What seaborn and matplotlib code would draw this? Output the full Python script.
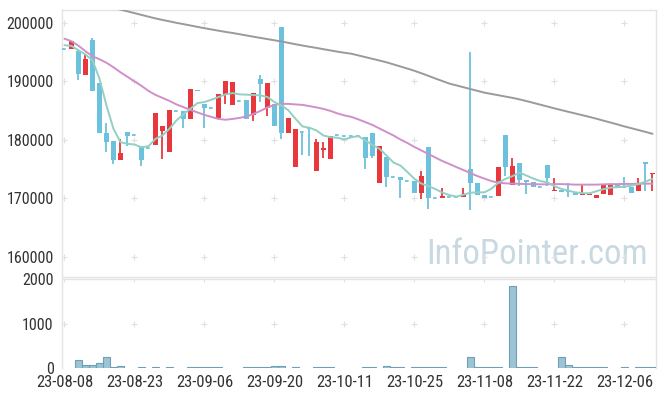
import numpy as np
import pandas as pd
import matplotlib
matplotlib.use('Agg')
import matplotlib.pyplot as plt
import seaborn as sns

# trading days 23-08-08 .. 23-12-12 (KRX holidays removed)
holidays = ['2023-08-15', '2023-09-28', '2023-09-29', '2023-10-02', '2023-10-03', '2023-10-09']
dates = [d for d in pd.bdate_range('2023-08-08', '2023-12-12') if d.strftime('%Y-%m-%d') not in holidays]

opens = [195600, 195600, 195190, 191070, 197030, 189650, 181070, 179860, 176480, 181240,
         180720, 179000, 178610, 179060, 181530, 177850, 184960, 184840, 183520, 188550,
         186040, 185480, 183690, 187590, 185920, 186680, 186730, 184210, 190340, 185410,
         186040, 199260, 181120, 175280, 181400, 181970, 174710, 178200, 176650, 180840,
         180600, 180670, 180670, 180380, 181070, 172600, 177120, 173630, 173680, 172990,
         172990, 170820, 178830, 170030, 169960, 170130, 170130, 170130, 175000, 172650,
         170590, 170130, 170300, 180720, 172250, 176090, 173120, 172820, 171850, 175740,
         171280, 171400, 171160, 170990, 170470, 170470, 170080, 170640, 170470, 172190,
         171970, 171970, 171160, 176250, 174080]
highs = [195600, 196860, 195600, 194460, 197490, 189650, 182900, 179860, 180150, 181240,
         180720, 179000, 178610, 184500, 182270, 185010, 184960, 184840, 188620, 188550,
         186040, 185480, 187760, 189990, 189820, 186680, 186730, 187930, 191020, 189650,
         186040, 199260, 183640, 181870, 181400, 181970, 180090, 179570, 180550, 180840,
         180600, 180670, 180670, 180380, 181070, 179000, 177120, 173630, 173680, 172990,
         172990, 174710, 178830, 170030, 171740, 170130, 170130, 171740, 195090, 172650,
         170590, 170130, 175400, 180720, 176890, 176090, 173120, 172820, 171850, 175740,
         173460, 171400, 172530, 170990, 172250, 170760, 170590, 172310, 172310, 172190,
         173560, 171970, 173460, 176250, 174370]
lows = [195600, 195600, 190280, 191070, 188330, 181120, 177970, 175860, 176480, 178900,
        180720, 175570, 178610, 179060, 176720, 177850, 184960, 182000, 183520, 188350,
        182040, 185480, 183690, 186040, 185920, 186680, 183520, 183120, 186440, 183980,
        182270, 180150, 181120, 175280, 177430, 177290, 174710, 176820, 176650, 180840,
        180600, 180670, 180670, 175000, 176820, 172600, 171970, 173630, 170030, 172990,
        170820, 169850, 168140, 170030, 169960, 170130, 170130, 170130, 168020, 170540,
        170080, 170130, 170300, 173730, 172250, 172020, 170710, 171850, 171850, 172020,
        171280, 171110, 170250, 170470, 170470, 170470, 170080, 170640, 170470, 171800,
        171970, 170820, 171160, 171160, 171160]
closes = [195600, 196860, 191240, 193820, 188330, 181120, 179690, 176480, 177800, 180600,
          180720, 176480, 178610, 184500, 182270, 185010, 184960, 183590, 188620, 188350,
          185410, 185480, 187760, 189990, 189820, 186680, 183520, 187930, 189530, 189650,
          182270, 181120, 183640, 181870, 181400, 181970, 179690, 178660, 180550, 180840,
          180600, 180670, 180670, 176820, 177170, 179000, 173560, 173630, 173050, 172990,
          170820, 173850, 169960, 170030, 170300, 170130, 170130, 170590, 172530, 170540,
          170080, 170130, 175400, 175280, 175570, 173050, 172820, 171850, 171850, 173460,
          171450, 171110, 171160, 170470, 170640, 170760, 170590, 172310, 172310, 171800,
          171970, 170820, 172650, 175860, 174370]

ma5 = [196170, 196050, 195310, 194580, 193600, 190450, 185870, 181870, 179570, 179300,
       179180, 178710, 178880, 180150, 180720, 181870, 183300, 184360, 185310, 186270,
       186440, 186850, 187300, 187760, 187980, 187760, 187710, 187640, 187590, 187300,
       186440, 185870, 185010, 183590, 182270, 182040, 181580, 180720, 180430, 180330,
       180040, 180430, 180600, 179860, 179120, 178440, 177290, 176090, 175570, 174460,
       173290, 172480, 172050, 171540, 170940, 170510, 170250, 170590, 170940, 170990,
       170990, 171620, 172650, 173290, 173770, 174370, 173860, 173340, 172910, 172700,
       172050, 171570, 171280, 170990, 170850, 170820, 171190, 171540, 171800, 171880,
       171970, 172140, 172400, 172830, 173290]
ma20 = [197290, 196860, 196090, 195140, 194280, 193770, 193170, 192400, 191540, 190760,
        189990, 189220, 188360, 187670, 187160, 186640, 186040, 185580, 185100, 184670,
        184240, 183900, 183550, 183420, 183550, 183730, 183980, 184410, 184930, 185530,
        185960, 186130, 186130, 186040, 185960, 185750, 185530, 185270, 184930, 184500,
        184160, 183900, 183470, 183000, 182520, 181920, 181320, 180720, 180030, 179430,
        178750, 178150, 177550, 176940, 176340, 175830, 175310, 174800, 174280, 173770,
        173340, 172910, 172650, 172530, 172480, 172450, 172400, 172400, 172360, 172360,
        172400, 172400, 172360, 172310, 172310, 172310, 172310, 172360, 172400, 172400,
        172430, 172430, 172480, 172480, 172480]
ma60 = [204580, 204290, 203980, 203670, 203380, 203090, 202820, 202520, 202270, 201970,
        201670, 201360, 201060, 200760, 200500, 200260, 200000, 199780, 199550, 199310,
        199090, 198870, 198660, 198450, 198270, 198060, 197840, 197630, 197420, 197220,
        197010, 196810, 196580, 196340, 196120, 195910, 195710, 195490, 195280, 195070,
        194880, 194710, 194420, 194130, 193840, 193550, 193250, 192890, 192530, 192170,
        191790, 191370, 190920, 190470, 190030, 189600, 189290, 188980, 188670, 188360,
        188050, 187830, 187610, 187380, 187160, 186900, 186610, 186300, 185990, 185680,
        185360, 185060, 184770, 184480, 184190, 183900, 183590, 183260, 182940, 182610,
        182270, 181960, 181650, 181340, 181010]

volume = [0, 0, 190, 76, 76, 122, 236, 15, 53, 0,
          0, 15, 0, 15, 0, 30, 0, 0, 15, 15,
          15, 15, 15, 0, 0, 0, 30, 15, 15, 15,
          53, 53, 0, 15, 0, 0, 30, 15, 15, 0,
          0, 0, 0, 30, 15, 0, 53, 15, 15, 0,
          15, 15, 30, 15, 15, 0, 0, 0, 258, 15,
          30, 15, 15, 0, 1840, 15, 15, 15, 0, 0,
          0, 236, 76, 15, 15, 15, 15, 15, 0, 0,
          15, 0, 15, 15, 15]

price_ticks = [160000, 170000, 180000, 190000, 200000]
vol_ticks = [0, 1000, 2000]

RED = '#e8383d'
BLUE = '#6cc2dc'
GRID = '#e0e0e0'
SPINE = '#e4e4e4'

sns.set_theme(style='white')
plt.rcParams['font.family'] = ['Roboto Condensed', 'DejaVu Sans']

df = pd.DataFrame({'idx': np.arange(len(dates)), 'open': opens, 'high': highs, 'low': lows,
                   'close': closes, 'ma5': ma5, 'ma20': ma20, 'ma60': ma60, 'volume': volume})

fig = plt.figure(figsize=(6.65, 3.96), dpi=100)
ax = fig.add_axes([62 / 665, 1 - 277 / 396, 594 / 665, 267 / 396])
axv = fig.add_axes([62 / 665, 1 - 368 / 396, 594 / 665, 89 / 396])

xt = df['idx'].values[::10]

# grid crosses
gx, gy = np.meshgrid(xt, price_ticks)
ax.scatter(gx.ravel(), gy.ravel(), marker='+', s=14, color=GRID, linewidths=0.8, zorder=1)
gx, gy = np.meshgrid(xt, vol_ticks[1:])
axv.scatter(gx.ravel(), gy.ravel(), marker='+', s=14, color=GRID, linewidths=0.8, zorder=1)

ax.text(0.987, 0.022, 'InfoPointer.com', transform=ax.transAxes, ha='right', va='bottom',
        fontsize=25, color='#c8d9e2', zorder=0)

# candles
up = df['close'] > df['open']
flat = df['close'] == df['open']
colors = np.where(up, RED, BLUE)
ax.vlines(df['idx'], df['low'], df['high'], colors=colors, linewidth=1.3, zorder=3)
body_lo = df[['open', 'close']].min(axis=1)
body_h = (df['close'] - df['open']).abs()
ax.bar(df['idx'][~flat], body_h[~flat], bottom=body_lo[~flat], width=0.68,
       color=colors[~flat], linewidth=0, zorder=4)
ax.hlines(df['close'][flat], df['idx'][flat] - 0.4, df['idx'][flat] + 0.4,
          colors=BLUE, linewidth=1.3, linestyles=(0, (2, 1.2)), zorder=4)

# moving averages
sns.lineplot(data=df, x='idx', y='ma60', ax=ax, color='#9a9a9a', linewidth=1.4, zorder=5)
sns.lineplot(data=df, x='idx', y='ma20', ax=ax, color='#cf90c9', linewidth=1.4, zorder=5)
sns.lineplot(data=df, x='idx', y='ma5', ax=ax, color='#93cfc3', linewidth=1.4, zorder=5)

ax.set_xlim(-0.35, 84.5)
ax.set_ylim(156500, 202200)
ax.set_yticks(price_ticks)
ax.set_yticklabels([str(v) for v in price_ticks])
ax.set_xticks([])
ax.set_xlabel('')
ax.set_ylabel('')

# volume
vd = df[df['volume'] > 0]
axv.bar(vd['idx'], vd['volume'], width=1.0, color='#9dc4d4', edgecolor='#6f9fb5',
        linewidth=0.8, zorder=3)
axv.set_xlim(-0.35, 84.5)
axv.set_ylim(0, 2000)
axv.set_yticks(vol_ticks)
axv.set_yticklabels([str(v) for v in vol_ticks])
axv.set_xticks(xt)
axv.set_xticklabels([dates[i].strftime('%y-%m-%d') for i in xt])

for a in (ax, axv):
    for s in a.spines.values():
        s.set_color(SPINE)
        s.set_linewidth(1.0)
    a.tick_params(axis='y', length=0, labelsize=11.5, labelcolor='#333333', pad=6)
axv.spines['bottom'].set_visible(False)
axv.tick_params(axis='x', length=0, labelsize=12, labelcolor='#333333', pad=5)

fig.savefig('out.png', dpi=100)
